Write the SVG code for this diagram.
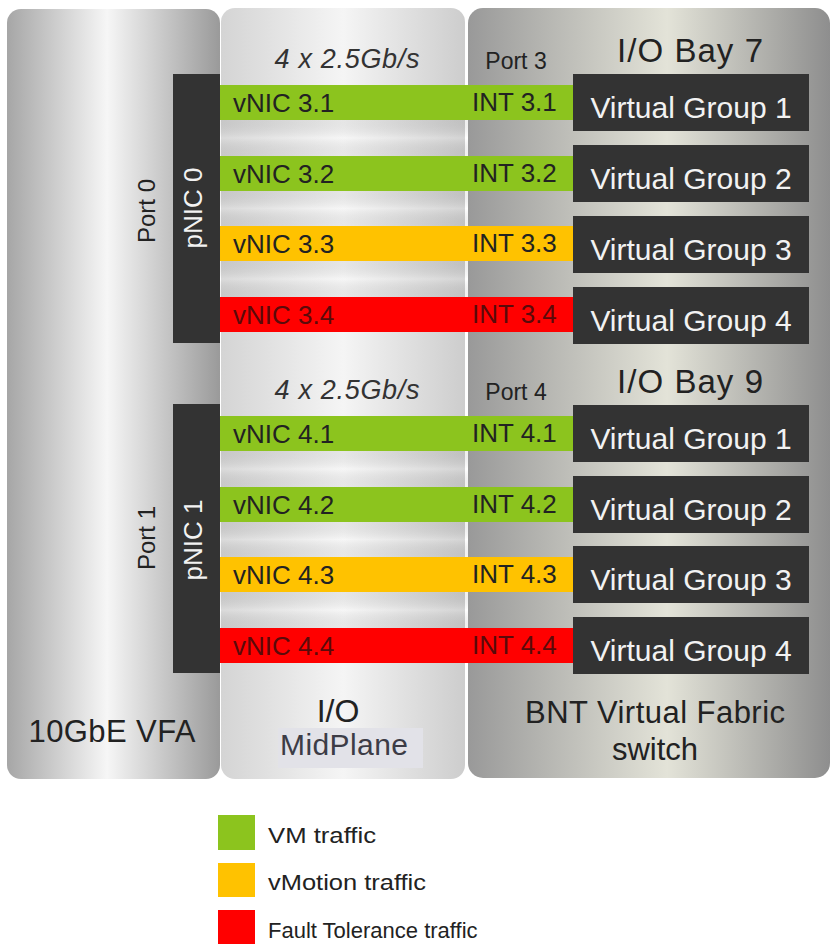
<svg xmlns="http://www.w3.org/2000/svg" width="833" height="945" viewBox="0 0 833 945">
<defs>
<linearGradient id="gLeft" x1="0" y1="0" x2="1" y2="0">
<stop offset="0" stop-color="#a6a6a6"/>
<stop offset="0.47" stop-color="#f6f6f6"/>
<stop offset="1" stop-color="#9a9a9a"/>
</linearGradient>
<linearGradient id="gMid" x1="0" y1="0" x2="1" y2="0">
<stop offset="0" stop-color="#d4d4d4"/>
<stop offset="0.5" stop-color="#f5f5f5"/>
<stop offset="1" stop-color="#cdcdcd"/>
</linearGradient>
<linearGradient id="gRight" x1="0" y1="0" x2="1" y2="0">
<stop offset="0" stop-color="#999999"/>
<stop offset="0.55" stop-color="#e3e3d8"/>
<stop offset="1" stop-color="#8e8e8e"/>
</linearGradient>
<linearGradient id="gGap" x1="0" y1="0" x2="0" y2="1">
<stop offset="0" stop-color="#000" stop-opacity="0.06"/>
<stop offset="0.5" stop-color="#fff" stop-opacity="0.15"/>
<stop offset="1" stop-color="#000" stop-opacity="0.05"/>
</linearGradient>
</defs>
<style>
.t{font-family:"Liberation Sans",Arial,sans-serif;fill:#222}
.green{fill:#8cc41e}
.orange{fill:#ffc200}
.red{fill:#ff0000}
.dark{fill:#333333}
.lbl{font-size:26px}
.vg{font-family:"Liberation Sans",Arial,sans-serif;font-size:30px;fill:#f2f2f2;text-anchor:middle}
.pn{font-family:"Liberation Sans",Arial,sans-serif;font-size:26px;fill:#f2f2f2;text-anchor:middle}
.port{font-size:23px}
.rotport{font-size:24px;text-anchor:middle}
.hdr{font-size:27px;font-style:italic;text-anchor:middle;fill:#333}
.bay{font-size:33px;text-anchor:middle;fill:#222}
.big{font-size:31px;text-anchor:middle}
.leg{font-size:22px}
.onred{fill:#5a0a0a}
</style>
<rect width="833" height="945" fill="#ffffff"/>

<g id="panel-vfa">
<rect x="7" y="9" width="213" height="770" rx="14" fill="url(#gLeft)"/>
<text class="t big" x="112" y="742" textLength="167">10GbE VFA</text>
<text class="t rotport" transform="translate(155,211) rotate(-90)">Port 0</text>
<text class="t rotport" transform="translate(155,538) rotate(-90)">Port 1</text>
</g>

<g id="panel-midplane">
<rect x="221" y="8" width="244" height="771" rx="14" fill="url(#gMid)"/>
<rect x="220" y="120" width="353" height="36" fill="url(#gGap)"/>
<rect x="220" y="191" width="353" height="35" fill="url(#gGap)"/>
<rect x="220" y="261" width="353" height="36" fill="url(#gGap)"/>
<rect x="220" y="451" width="353" height="36" fill="url(#gGap)"/>
<rect x="220" y="522" width="353" height="35" fill="url(#gGap)"/>
<rect x="220" y="592" width="353" height="36" fill="url(#gGap)"/>
<text class="t" x="338" y="722" font-size="32" text-anchor="middle">I/O</text>
<rect x="278" y="728" width="145" height="40" fill="#e2e2e8"/>
<text x="344" y="755" font-family="Liberation Sans, Arial, sans-serif" font-size="30" fill="#3c3c46" text-anchor="middle" textLength="128">MidPlane</text>
<text class="t hdr" x="347" y="68" textLength="145">4 x 2.5Gb/s</text>
<text class="t hdr" x="347" y="399" textLength="145">4 x 2.5Gb/s</text>
</g>

<g id="panel-switch">
<rect x="468" y="8" width="362" height="770" rx="15" fill="url(#gRight)"/>
<text class="t big" x="655" y="723" textLength="260">BNT Virtual Fabric</text>
<text class="t big" x="655" y="760">switch</text>
<text class="t port" x="516" y="69" text-anchor="middle">Port 3</text>
<text class="t port" x="516" y="400" text-anchor="middle">Port 4</text>
<text class="t bay" x="690" y="62" textLength="146">I/O Bay 7</text>
<text class="t bay" x="690" y="393" textLength="146">I/O Bay 9</text>
</g>

<g id="links">
<rect class="green" x="220" y="85" width="353" height="35"/>
<rect class="green" x="220" y="156" width="353" height="35"/>
<rect class="orange" x="220" y="226" width="353" height="35"/>
<rect class="red" x="220" y="297" width="353" height="35"/>
<rect class="green" x="220" y="416" width="353" height="35"/>
<rect class="green" x="220" y="487" width="353" height="35"/>
<rect class="orange" x="220" y="557" width="353" height="35"/>
<rect class="red" x="220" y="628" width="353" height="35"/>
<text class="t lbl" x="233" y="112">vNIC 3.1</text>
<text class="t lbl" x="233" y="183">vNIC 3.2</text>
<text class="t lbl" x="233" y="253">vNIC 3.3</text>
<text class="t lbl onred" x="233" y="324">vNIC 3.4</text>
<text class="t lbl" x="233" y="443">vNIC 4.1</text>
<text class="t lbl" x="233" y="514">vNIC 4.2</text>
<text class="t lbl" x="233" y="584">vNIC 4.3</text>
<text class="t lbl onred" x="233" y="655">vNIC 4.4</text>
<text class="t lbl" x="472" y="111">INT 3.1</text>
<text class="t lbl" x="472" y="182">INT 3.2</text>
<text class="t lbl" x="472" y="252">INT 3.3</text>
<text class="t lbl onred" x="472" y="323">INT 3.4</text>
<text class="t lbl" x="472" y="442">INT 4.1</text>
<text class="t lbl" x="472" y="513">INT 4.2</text>
<text class="t lbl" x="472" y="583">INT 4.3</text>
<text class="t lbl onred" x="472" y="654">INT 4.4</text>
</g>

<g id="pnic0">
<rect class="dark" x="173" y="74" width="47" height="269"/>
<text class="pn" transform="translate(202,208) rotate(-90)">pNIC 0</text>
</g>
<g id="pnic1">
<rect class="dark" x="173" y="404" width="47" height="269"/>
<text class="pn" transform="translate(202,540) rotate(-90)">pNIC 1</text>
</g>

<g id="bay7-vg1"><rect class="dark" x="573" y="74" width="236" height="57"/><text class="vg" x="691" y="118">Virtual Group 1</text></g>
<g id="bay7-vg2"><rect class="dark" x="573" y="145" width="236" height="57"/><text class="vg" x="691" y="189">Virtual Group 2</text></g>
<g id="bay7-vg3"><rect class="dark" x="573" y="216" width="236" height="57"/><text class="vg" x="691" y="260">Virtual Group 3</text></g>
<g id="bay7-vg4"><rect class="dark" x="573" y="287" width="236" height="57"/><text class="vg" x="691" y="331">Virtual Group 4</text></g>
<g id="bay9-vg1"><rect class="dark" x="573" y="405" width="236" height="57"/><text class="vg" x="691" y="449">Virtual Group 1</text></g>
<g id="bay9-vg2"><rect class="dark" x="573" y="476" width="236" height="57"/><text class="vg" x="691" y="520">Virtual Group 2</text></g>
<g id="bay9-vg3"><rect class="dark" x="573" y="546" width="236" height="57"/><text class="vg" x="691" y="590">Virtual Group 3</text></g>
<g id="bay9-vg4"><rect class="dark" x="573" y="617" width="236" height="57"/><text class="vg" x="691" y="661">Virtual Group 4</text></g>

<g id="legend">
<rect class="green" x="218" y="815" width="37" height="35"/>
<text class="t leg" x="268" y="843" textLength="108" lengthAdjust="spacingAndGlyphs">VM traffic</text>
<rect class="orange" x="218" y="863" width="37" height="34"/>
<text class="t leg" x="268" y="890" textLength="158" lengthAdjust="spacingAndGlyphs">vMotion traffic</text>
<rect class="red" x="218" y="910" width="37" height="34"/>
<text class="t leg" x="268" y="938">Fault Tolerance traffic</text>
</g>
</svg>
